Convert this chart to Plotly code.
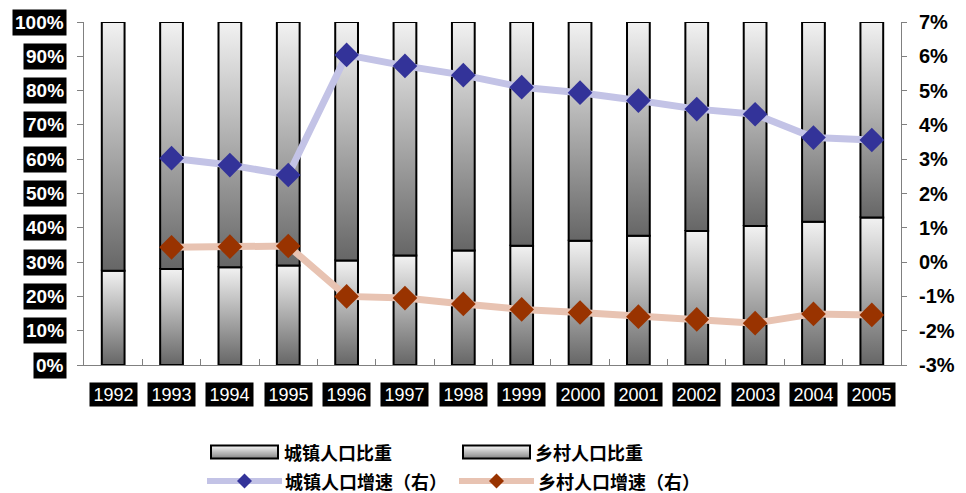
import plotly.graph_objects as go

# ---- data -------------------------------------------------------------
years = ["1992", "1993", "1994", "1995", "1996", "1997", "1998",
         "1999", "2000", "2001", "2002", "2003", "2004", "2005"]
urban_share = [27.46, 27.99, 28.51, 29.04, 30.48, 31.91, 33.35,
               34.78, 36.22, 37.66, 39.09, 40.53, 41.76, 42.99]
rural_share = [72.54, 72.01, 71.49, 70.96, 69.52, 68.09, 66.65,
               65.22, 63.78, 62.34, 60.91, 59.47, 58.24, 57.01]
urban_growth = [None, 3.03, 2.83, 2.54, 6.04, 5.72, 5.45,
                5.10, 4.94, 4.71, 4.46, 4.31, 3.63, 3.56]
rural_growth = [None, 0.43, 0.45, 0.47, -1.00, -1.05, -1.22,
                -1.38, -1.47, -1.59, -1.67, -1.78, -1.51, -1.54]

left_ticks = [0, 10, 20, 30, 40, 50, 60, 70, 80, 90, 100]
left_labels = ["0%", "10%", "20%", "30%", "40%", "50%", "60%",
               "70%", "80%", "90%", "100%"]
right_ticks = [-3, -2, -1, 0, 1, 2, 3, 4, 5, 6, 7]
right_labels = ["-3%", "-2%", "-1%", "0%", "1%", "2%", "3%",
                "4%", "5%", "6%", "7%"]

series_names = ["城镇人口比重", "乡村人口比重", "城镇人口增速（右）", "乡村人口增速（右）"]

# ---- style ------------------------------------------------------------
WIDTH, HEIGHT = 966, 493
L, R, T, B = 84, 901, 22, 365          # plot area in pixels
PW, PH = R - L, B - T
BAR_W = 0.39                            # bar width in category units
GRAD = [[0.0, "#666666"], [1.0, "#f2f2f2"]]
URBAN_LINE, URBAN_MARK = "#c3c3e6", "#333399"
RURAL_LINE, RURAL_MARK = "#e8c3b2", "#993300"
AXIS_COL = "#808080"
LATIN = "Liberation Sans, Arial, sans-serif"
CJK = "Noto Sans CJK SC, sans-serif"


def px_x(x):
    return (x - L) / PW


def px_y(y):
    return (B - y) / PH


fig = go.Figure()

# ---- stacked share bars, each segment with a vertical gradient --------
for i, (u, r) in enumerate(zip(urban_share, rural_share)):
    x0, x1 = i - BAR_W / 2, i + BAR_W / 2
    for base, top in ((0, u), (u, u + r)):
        fig.add_trace(go.Scatter(
            x=[x0, x1, x1, x0, x0], y=[base, base, top, top, base],
            mode="lines", fill="toself",
            fillgradient=dict(type="vertical", colorscale=GRAD),
            line=dict(color="black", width=2),
            hoverinfo="skip", showlegend=False,
        ))

# ---- growth lines on the right axis -----------------------------------
xs = list(range(len(years)))
fig.add_trace(go.Scatter(
    x=xs, y=urban_growth, yaxis="y2", name=series_names[2],
    mode="lines+markers", line=dict(color=URBAN_LINE, width=7),
    marker=dict(symbol="diamond", size=19, color=URBAN_MARK),
    showlegend=False,
))
fig.add_trace(go.Scatter(
    x=xs, y=rural_growth, yaxis="y2", name=series_names[3],
    mode="lines+markers", line=dict(color=RURAL_LINE, width=7),
    marker=dict(symbol="diamond", size=19, color=RURAL_MARK),
    showlegend=False,
))

annotations = []
shapes = []

# category labels: white on black boxes
for i, yr in enumerate(years):
    annotations.append(dict(
        x=i, xref="x", y=px_y(394.5), yref="paper", text=yr,
        showarrow=False, width=47, height=23, borderpad=0,
        bgcolor="black", font=dict(family=LATIN, size=18, color="white"),
        xanchor="center", yanchor="middle",
    ))

# left axis labels: bold white on black boxes
for v, lab in zip(left_ticks, left_labels):
    annotations.append(dict(
        x=px_x(67), xref="paper", y=v, yref="y", text=lab,
        showarrow=False, borderpad=2, bgcolor="black",
        font=dict(family=LATIN, size=19, color="white", weight="bold"),
        xanchor="right", yanchor="middle",
    ))

# ---- legend ---------------------------------------------------------------
def gradient_swatch(x0, x1, y0, y1):
    n = int(y1 - y0)
    for k in range(n):
        t = k / max(n - 1, 1)
        c = int(round(0xf2 + (0x66 - 0xf2) * t))
        shapes.append(dict(
            type="rect", xref="paper", yref="paper",
            x0=px_x(x0), x1=px_x(x1), y0=px_y(y0 + k), y1=px_y(y0 + k + 1),
            fillcolor=f"rgb({c},{c},{c})", line=dict(width=0), layer="above",
        ))
    shapes.append(dict(
        type="rect", xref="paper", yref="paper",
        x0=px_x(x0), x1=px_x(x1), y0=px_y(y0), y1=px_y(y1),
        line=dict(color="black", width=2), fillcolor="rgba(0,0,0,0)",
        layer="above",
    ))


def line_swatch(x0, x1, y, line_col, mark_col):
    shapes.append(dict(
        type="line", xref="paper", yref="paper",
        x0=px_x(x0), x1=px_x(x1), y0=px_y(y), y1=px_y(y),
        line=dict(color=line_col, width=6), layer="above",
    ))
    cx, h = (x0 + x1) / 2, 7.5
    shapes.append(dict(
        type="path", xref="paper", yref="paper",
        path=(f"M{px_x(cx)},{px_y(y - h)} L{px_x(cx + h)},{px_y(y)} "
              f"L{px_x(cx)},{px_y(y + h)} L{px_x(cx - h)},{px_y(y)} Z"),
        fillcolor=mark_col, line=dict(width=0), layer="above",
    ))


def legend_text(x, y, text):
    annotations.append(dict(
        x=px_x(x), xref="paper", y=px_y(y), yref="paper", text=text,
        showarrow=False, xanchor="left", yanchor="middle", borderpad=0,
        font=dict(family=CJK, size=18, color="black", weight="bold"),
    ))


gradient_swatch(211, 278, 445.5, 458.5)
legend_text(283, 452, series_names[0])
gradient_swatch(463, 530, 445.5, 458.5)
legend_text(534, 452, series_names[1])
line_swatch(207, 282, 481, URBAN_LINE, URBAN_MARK)
legend_text(284, 481, series_names[2])
line_swatch(459, 534, 481, RURAL_LINE, RURAL_MARK)
legend_text(537, 481, series_names[3])

fig.update_layout(
    width=WIDTH, height=HEIGHT,
    margin=dict(l=L, r=WIDTH - R, t=T, b=HEIGHT - B, pad=0),
    paper_bgcolor="white", plot_bgcolor="white",
    showlegend=False,
    xaxis=dict(
        range=[-0.5, len(years) - 0.5],
        tickvals=[i + 0.5 for i in range(-1, len(years))],
        showticklabels=False, ticks="inside", ticklen=6,
        tickcolor=AXIS_COL, showline=True, linecolor=AXIS_COL, linewidth=1,
        showgrid=False, zeroline=False, fixedrange=True,
    ),
    yaxis=dict(
        range=[0, 100], tickvals=left_ticks, showticklabels=False,
        ticks="outside", ticklen=6, tickcolor=AXIS_COL,
        showline=True, linecolor=AXIS_COL, linewidth=1,
        showgrid=False, zeroline=False, fixedrange=True,
    ),
    yaxis2=dict(
        overlaying="y", side="right", anchor="x",
        range=[-3, 7], tickvals=right_ticks, ticktext=right_labels,
        ticks="outside", ticklen=5, tickcolor=AXIS_COL,
        ticklabelstandoff=8,
        tickfont=dict(family=LATIN, size=20, color="black", weight="bold"),
        showline=True, linecolor=AXIS_COL, linewidth=1,
        showgrid=False, zeroline=False, fixedrange=True,
    ),
    annotations=annotations,
    shapes=shapes,
)

fig.write_html("out.html")
